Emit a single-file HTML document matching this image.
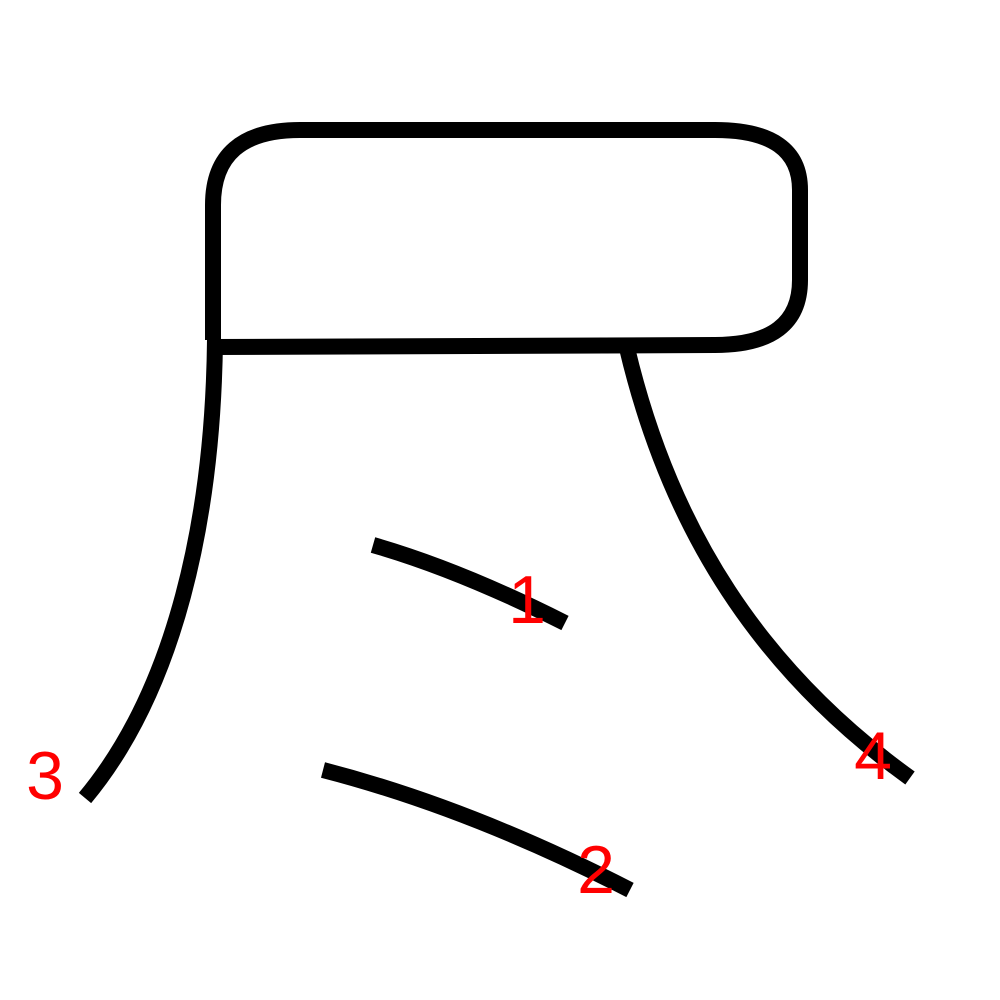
<!DOCTYPE html>
<html><head><meta charset="utf-8"><style>html,body{margin:0;padding:0;background:#fff}svg{display:block}</style></head>
<body>
<svg width="1000" height="1000" viewBox="0 0 1000 1000">
<g fill="none" stroke="#000" stroke-width="16" stroke-linecap="butt" stroke-linejoin="round">
<path d="M213,340 V205 Q213,130 300,130 H715 Q800,130 800,190 V280 Q800,345 715,345 L213,347"/>
<path d="M373,545 Q460,570 565,623"/>
<path d="M323,770 Q470,808 630,890"/>
<path d="M215,340 C213,520 175,690 85,798"/>
<path d="M627,348 C670,530 760,670 910,778"/>
</g>
<g fill="#f00" font-family="Liberation Sans, sans-serif" font-size="68" text-anchor="middle">
<text x="527" y="623">1</text>
<text x="596" y="893">2</text>
<text x="45" y="799">3</text>
<text x="873" y="779">4</text>
</g>
</svg>
</body></html>
